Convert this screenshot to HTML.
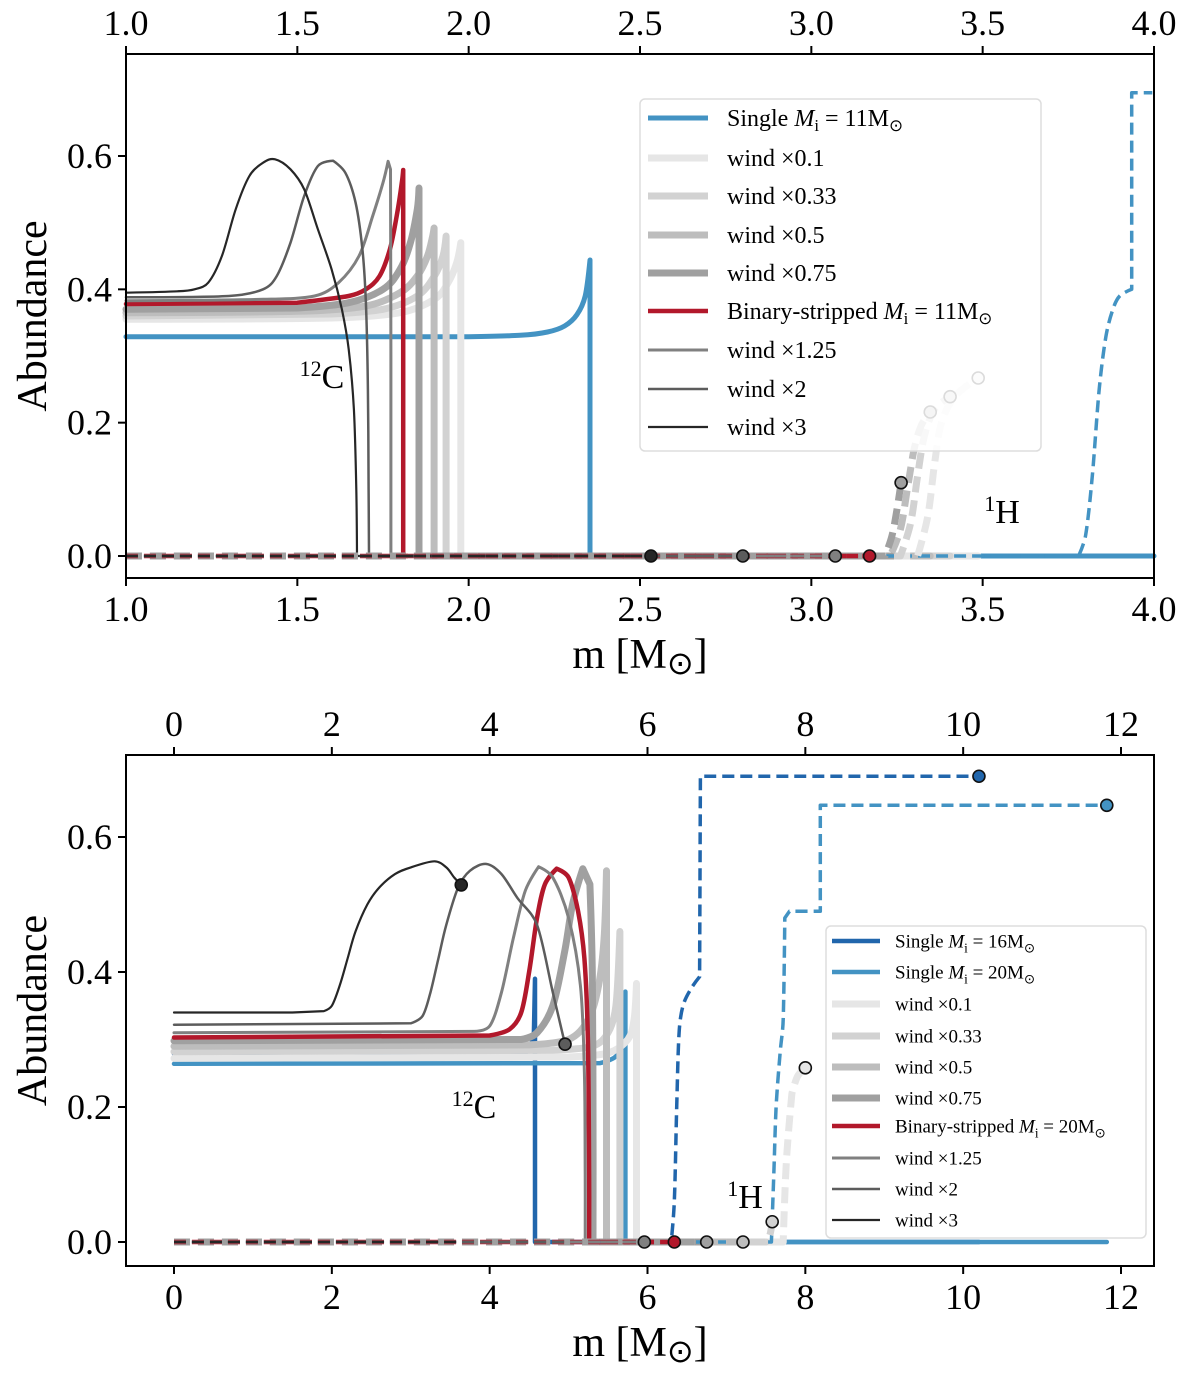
<!DOCTYPE html>
<html><head><meta charset="utf-8"><style>
body{margin:0;background:#fff;}
svg text{font-family:"Liberation Serif","DejaVu Serif",serif;fill:#000;}
</style></head><body>
<svg id="fig" width="1200" height="1368" viewBox="0 0 1200 1368" xmlns="http://www.w3.org/2000/svg">
<g id="top"></g>
<g id="bot"></g>
</svg>
<script>
// ---------- TOP PANEL DATA (Mi = 11) ----------
const topTicksX = [1.0,1.5,2.0,2.5,3.0,3.5,4.0];
const topTickLabelsX = ["1.0","1.5","2.0","2.5","3.0","3.5","4.0"];
const ticksY = [0.0,0.2,0.4,0.6];
const tickLabelsY = ["0.0","0.2","0.4","0.6"];

const t_single_c12_m = [1.0,2.0,2.15,2.23,2.28,2.316,2.34,2.354,2.354,4.0];
const t_single_c12_a = [0.329,0.329,0.331,0.336,0.345,0.362,0.39,0.444,0,0];
const t_single_h_m = [1.0,3.78,3.80,3.82,3.84,3.86,3.88,3.90,3.935,3.935,3.995];
const t_single_h_a = [0,0,0.03,0.12,0.25,0.33,0.37,0.39,0.40,0.695,0.695];

const t_w01_c12_m = [1.0,1.6,1.8,1.9,1.94,1.965,1.977,1.977,3.487];
const t_w01_c12_a = [0.355,0.357,0.365,0.385,0.41,0.44,0.47,0,0];
const t_w01_h_m = [1.0,3.31,3.34,3.36,3.38,3.42,3.487];
const t_w01_h_a = [0,0,0.06,0.14,0.2,0.24,0.267];

const t_w033_c12_m = [1.0,1.6,1.75,1.85,1.9,1.925,1.934,1.934,3.405];
const t_w033_c12_a = [0.360,0.363,0.37,0.39,0.42,0.45,0.48,0,0];
const t_w033_h_m = [1.0,3.26,3.29,3.31,3.33,3.36,3.405];
const t_w033_h_a = [0,0,0.05,0.12,0.18,0.22,0.239];

const t_w05_c12_m = [1.0,1.5,1.7,1.8,1.85,1.88,1.895,1.899,1.899,3.347];
const t_w05_c12_a = [0.365,0.367,0.375,0.395,0.42,0.45,0.48,0.492,0,0];
const t_w05_h_m = [1.0,3.23,3.26,3.28,3.30,3.32,3.347];
const t_w05_h_a = [0,0,0.04,0.1,0.16,0.195,0.216];

const t_w075_c12_m = [1.0,1.5,1.65,1.75,1.8,1.83,1.85,1.855,1.855,3.262];
const t_w075_c12_a = [0.370,0.372,0.38,0.40,0.43,0.47,0.52,0.552,0,0];
const t_w075_h_m = [1.0,3.215,3.235,3.25,3.262];
const t_w075_h_a = [0,0,0.03,0.07,0.11];

const t_bin_c12_m = [1.0,1.5,1.65,1.7,1.74,1.77,1.79,1.805,1.809,1.809,3.17];
const t_bin_c12_a = [0.378,0.38,0.39,0.40,0.42,0.46,0.51,0.56,0.579,0,0];
const t_bin_h_m = [1.0,3.17];
const t_bin_h_a = [0,0];

const t_w125_c12_m = [1.0,1.4,1.55,1.62,1.68,1.72,1.75,1.765,1.772,1.773,1.773,3.07];
const t_w125_c12_a = [0.383,0.385,0.39,0.41,0.45,0.51,0.56,0.592,0.58,0.3,0,0];
const t_w125_h_m = [1.0,3.07];
const t_w125_h_a = [0,0];

const t_w2_c12_m = [1.0,1.3,1.4,1.44,1.48,1.52,1.56,1.604,1.64,1.67,1.69,1.70,1.706,1.708,1.709,2.80];
const t_w2_c12_a = [0.388,0.39,0.40,0.42,0.47,0.54,0.585,0.593,0.575,0.53,0.46,0.38,0.25,0.1,0,0];
const t_w2_h_m = [1.0,2.80];
const t_w2_h_a = [0,0];

const t_w3_c12_m = [1.0,1.15,1.2,1.24,1.28,1.32,1.36,1.4,1.435,1.48,1.52,1.56,1.6,1.63,1.65,1.665,1.672,1.674,2.532];
const t_w3_c12_a = [0.395,0.397,0.40,0.41,0.45,0.52,0.57,0.59,0.595,0.58,0.55,0.49,0.43,0.37,0.31,0.22,0.1,0,0];
const t_w3_h_m = [1.0,2.532];
const t_w3_h_a = [0,0];

// ---------- BOTTOM PANEL DATA (Mi = 16 / 20) ----------
const botTicksX = [0,2,4,6,8,10,12];
const botTickLabelsX = ["0","2","4","6","8","10","12"];

const b_s16_c12_m = [0,4.4,4.5,4.56,4.575,4.575,10.2];
const b_s16_c12_a = [0.279,0.279,0.285,0.31,0.39,0,0];
const b_s16_h_m = [0,6.30,6.34,6.37,6.40,6.45,6.55,6.66,6.67,10.2];
const b_s16_h_a = [0,0,0.06,0.2,0.31,0.35,0.375,0.393,0.69,0.69];

const b_s20_c12_m = [0,5.4,5.6,5.7,5.72,5.72,11.82];
const b_s20_c12_a = [0.264,0.265,0.275,0.30,0.371,0,0];
const b_s20_h_m = [0,7.57,7.60,7.63,7.68,7.72,7.74,7.80,8.19,8.19,11.82];
const b_s20_h_a = [0,0,0.1,0.2,0.28,0.33,0.48,0.49,0.49,0.647,0.647];

const b_w01_c12_m = [0,5.0,5.5,5.75,5.83,5.86,5.86,7.72];
const b_w01_c12_a = [0.272,0.274,0.28,0.30,0.33,0.383,0,0];
const b_w01_h_m = [0,7.72,7.76,7.83,7.9,8.0];
const b_w01_h_a = [0,0,0.12,0.22,0.245,0.258];

const b_w033_c12_m = [0,4.8,5.3,5.5,5.6,5.65,5.65,7.5];
const b_w033_c12_a = [0.282,0.284,0.29,0.31,0.35,0.46,0,0];
const b_w033_h_m = [0,7.5,7.55,7.58];
const b_w033_h_a = [0,0,0.01,0.03];

const b_w05_c12_m = [0,4.5,5.0,5.25,5.38,5.45,5.48,5.48,7.21];
const b_w05_c12_a = [0.29,0.292,0.30,0.33,0.38,0.45,0.55,0,0];
const b_w05_h_m = [0,7.21];
const b_w05_h_a = [0,0];

const b_w075_c12_m = [0,4.4,4.6,4.8,4.95,5.05,5.18,5.27,5.3,5.31,5.31,6.75];
const b_w075_c12_a = [0.298,0.30,0.31,0.35,0.43,0.50,0.553,0.53,0.4,0.2,0,0];
const b_w075_h_m = [0,6.75];
const b_w075_h_a = [0,0];

const b_bin_c12_m = [0,4.0,4.25,4.4,4.5,4.6,4.7,4.85,5.0,5.12,5.2,5.245,5.26,5.26,6.34];
const b_bin_c12_a = [0.303,0.306,0.315,0.34,0.40,0.48,0.53,0.553,0.54,0.49,0.42,0.3,0.1,0,0];
const b_bin_h_m = [0,6.34];
const b_bin_h_a = [0,0];

const b_w125_c12_m = [0,3.8,4.0,4.15,4.3,4.45,4.62,4.8,5.0,5.15,5.2,5.21,5.21,5.96];
const b_w125_c12_a = [0.31,0.312,0.32,0.37,0.45,0.52,0.556,0.54,0.48,0.38,0.25,0.1,0,0];
const b_w125_h_m = [0,5.96];
const b_w125_h_a = [0,0];

const b_w2_c12_m = [0,3.0,3.15,3.25,3.35,3.45,3.6,3.75,3.96,4.15,4.35,4.6,4.8,4.955];
const b_w2_c12_a = [0.322,0.324,0.335,0.37,0.42,0.47,0.525,0.55,0.56,0.545,0.51,0.47,0.37,0.293];
const b_w2_h_m = [0,4.955];
const b_w2_h_a = [0,0];

const b_w3_c12_m = [0,1.5,1.9,2.0,2.1,2.2,2.3,2.45,2.6,2.8,3.0,3.3,3.45,3.55,3.64];
const b_w3_c12_a = [0.34,0.34,0.342,0.35,0.38,0.42,0.46,0.5,0.525,0.545,0.555,0.564,0.555,0.54,0.529];
const b_w3_h_m = [0,3.64];
const b_w3_h_a = [0,0];

// ---------- RENDERING ----------
const NS = "http://www.w3.org/2000/svg";
function mk(parent, tag, attrs){
  const e = document.createElementNS(NS, tag);
  for (const k in attrs) e.setAttribute(k, attrs[k]);
  parent.appendChild(e);
  return e;
}
function txt(parent, x, y, s, size, anchor, name){
  const t = mk(parent, "text", {x:x, y:y, "font-size":size, "text-anchor":anchor||"middle"});
  t.textContent = s;
  
  
  return t;
}

function makeAxes(box, xdom, ydom){
  const X = v => box.x0 + (v - xdom[0]) / (xdom[1] - xdom[0]) * (box.x1 - box.x0);
  const Y = v => box.yz - (v - ydom[0]) / (ydom[1] - ydom[0]) * (box.yz - box.yt);
  return {X, Y};
}

function smoothPath(pts){
  const n = pts.length;
  const L = (a, b) => Math.hypot(b[0]-a[0], b[1]-a[1]);
  const tan = [];
  for (let i = 0; i < n; i++){
    if (i === 0 || i === n-1) { tan.push([0,0]); continue; }
    const a = L(pts[i-1], pts[i]), b = L(pts[i], pts[i+1]);
    if (a < 0.01 || b < 0.01 || a/b > 3 || b/a > 3) { tan.push([0,0]); continue; }
    const cos = ((pts[i][0]-pts[i-1][0])*(pts[i+1][0]-pts[i][0]) + (pts[i][1]-pts[i-1][1])*(pts[i+1][1]-pts[i][1])) / (a*b);
    if (cos < 0.5) { tan.push([0,0]); continue; }
    tan.push([(pts[i+1][0]-pts[i-1][0])/2, (pts[i+1][1]-pts[i-1][1])/2]);
  }
  let d = "M" + pts[0][0].toFixed(1) + " " + pts[0][1].toFixed(1);
  for (let i = 0; i < n-1; i++){
    const p1 = pts[i], p2 = pts[i+1], seg = L(p1, p2);
    let t1 = [tan[i][0]/3, tan[i][1]/3], t2 = [tan[i+1][0]/3, tan[i+1][1]/3];
    const l1 = Math.hypot(t1[0], t1[1]), l2 = Math.hypot(t2[0], t2[1]);
    if (l1 > seg*0.4) { const f = seg*0.4/l1; t1 = [t1[0]*f, t1[1]*f]; }
    if (l2 > seg*0.4) { const f = seg*0.4/l2; t2 = [t2[0]*f, t2[1]*f]; }
    d += "C" + (p1[0]+t1[0]).toFixed(1)+" "+(p1[1]+t1[1]).toFixed(1)+" "+(p2[0]-t2[0]).toFixed(1)+" "+(p2[1]-t2[1]).toFixed(1)+" "+p2[0].toFixed(1)+" "+p2[1].toFixed(1);
  }
  return d;
}

function drawSeries(g, ax, ms, as, color, width, dash, name){
  const pts = ms.map((m, i) => [ax.X(m), ax.Y(as[i])]);
  const p = mk(g, "path", {d:smoothPath(pts), fill:"none", stroke:color, "stroke-width":width, "stroke-linejoin":"round", "stroke-linecap":dash ? "butt" : "round"});
  if (dash) p.setAttribute("stroke-dasharray", dash);
  
  
}
function dot(g, ax, m, a, color, name){
  const c = mk(g, "circle", {cx:ax.X(m), cy:ax.Y(a), r:6, fill:color, stroke:"#111", "stroke-width":1.6});
  
  
}

function frame(g, box, ax, xt, xtl){
  const r = mk(g, "rect", {x:box.x0, y:box.y0, width:box.x1-box.x0, height:box.y1-box.y0, fill:"none", stroke:"#000", "stroke-width":2});
  
  
  xt.forEach((v, i) => {
    const x = ax.X(v);
    const t1 = mk(g, "line", {x1:x, x2:x, y1:box.y1, y2:box.y1+8, stroke:"#000", "stroke-width":2});
    
    
    const t2 = mk(g, "line", {x1:x, x2:x, y1:box.y0, y2:box.y0-8, stroke:"#000", "stroke-width":2});
    
    
    txt(g, x, box.y1 + 43, xtl[i], 36, "middle", "x-tick-label");
    txt(g, x, box.y0 - 19, xtl[i], 36, "middle", "x-top-tick-label");
  });
  ticksY.forEach((v, i) => {
    const y = ax.Y(v);
    const t = mk(g, "line", {x1:box.x0-8, x2:box.x0, y1:y, y2:y, stroke:"#000", "stroke-width":2});
    
    
    txt(g, box.x0 - 14, y + 12, tickLabelsY[i], 36, "end", "y-tick-label");
  });
  const xt2 = txt(g, (box.x0+box.x1)/2, box.y1 + 90, "", 42, "middle", "x-axis-title");
  xt2.innerHTML = 'm [M<tspan font-family="DejaVu Sans" font-size="32" dy="6">⊙</tspan><tspan dy="-6">]</tspan>';
  const yt = txt(g, 0, 0, "Abundance", 42, "middle", "y-axis-title");
  yt.setAttribute("transform", `translate(46 ${(box.y0+box.y1)/2}) rotate(-90)`);
}

function legend(g, x, y, w, h, rows, lx, tx, rowY, fs, name){
  const r = mk(g, "rect", {x:x, y:y, width:w, height:h, rx:5, fill:"#fff", "fill-opacity":0.85, stroke:"#ddd", "stroke-width":1.5});
  
  
  rows.forEach((rw, i) => {
    const l = mk(g, "line", {x1:lx[0], x2:lx[1], y1:rowY[i], y2:rowY[i], stroke:rw[0], "stroke-width":rw[1]});
    
    
    const t = txt(g, tx, rowY[i] + fs*0.33, "", fs, "start", "legend-entry");
    t.innerHTML = rw[2];
  });
}

const C = {w01:"#e6e6e6", w033:"#d2d2d2", w05:"#bdbdbd", w075:"#a0a0a0", bin:"#b2182b", w125:"#808080", w2:"#5c5c5c", w3:"#262626", b11:"#4393c3", b16:"#2166ac", b20:"#4393c3"};
const sun = '<tspan font-family="DejaVu Sans" font-size="0.7em" dy="5">⊙</tspan>';

// TOP
(function(){
  const g = document.getElementById("top");
  const box = {x0:126, x1:1154, y0:54, y1:578, yz:556, yt:156};
  const ax = makeAxes(box, [1,4], [0,0.6]);
  const S = [
    [t_single_c12_m,t_single_c12_a,t_single_h_m,t_single_h_a,C.b11,5,false,"single-11"],
    [t_w01_c12_m,t_w01_c12_a,t_w01_h_m,t_w01_h_a,C.w01,7,true,"wind-0.1"],
    [t_w033_c12_m,t_w033_c12_a,t_w033_h_m,t_w033_h_a,C.w033,7,true,"wind-0.33"],
    [t_w05_c12_m,t_w05_c12_a,t_w05_h_m,t_w05_h_a,C.w05,7,true,"wind-0.5"],
    [t_w075_c12_m,t_w075_c12_a,t_w075_h_m,t_w075_h_a,C.w075,7,true,"wind-0.75"],
    [t_bin_c12_m,t_bin_c12_a,t_bin_h_m,t_bin_h_a,C.bin,4.5,true,"binary-11"],
    [t_w125_c12_m,t_w125_c12_a,t_w125_h_m,t_w125_h_a,C.w125,3,true,"wind-1.25"],
    [t_w2_c12_m,t_w2_c12_a,t_w2_h_m,t_w2_h_a,C.w2,2.5,true,"wind-2"],
    [t_w3_c12_m,t_w3_c12_a,t_w3_h_m,t_w3_h_a,C.w3,2.2,true,"wind-3"]
  ];
  S.forEach(s => drawSeries(g, ax, s[0], s[1], s[4], s[5], null, s[7]+"-c12-line"));
  S.forEach(s => drawSeries(g, ax, s[2], s[3], s[4], s[5] === 5 ? 3.5 : s[5], s[5] >= 6 ? "16 8" : "12 6", s[7]+"-h-line"));
  S.forEach(s => { if (s[6]) dot(g, ax, s[2][s[2].length-1], s[3][s[3].length-1], s[4], s[7]+"-end-marker"); });
  const c = txt(g, 322, 388, "", 34, "middle", "c12-label"); c.innerHTML = '<tspan font-size="22" dy="-12">12</tspan><tspan dy="12">C</tspan>';
  const h = txt(g, 1002, 523, "", 34, "middle", "h1-label"); h.innerHTML = '<tspan font-size="22" dy="-12">1</tspan><tspan dy="12">H</tspan>';
  frame(g, box, ax, topTicksX, topTickLabelsX);
  legend(g, 640, 99, 401, 352, [
    [C.b11,5,'Single <tspan font-style="italic">M</tspan><tspan font-size="0.7em" dy="5">i</tspan><tspan dy="-5"> = 11M</tspan>'+sun],
    [C.w01,7,'wind ×0.1'],[C.w033,7,'wind ×0.33'],[C.w05,7,'wind ×0.5'],[C.w075,7,'wind ×0.75'],
    [C.bin,4.5,'Binary-stripped <tspan font-style="italic">M</tspan><tspan font-size="0.7em" dy="5">i</tspan><tspan dy="-5"> = 11M</tspan>'+sun],
    [C.w125,3,'wind ×1.25'],[C.w2,2.5,'wind ×2'],[C.w3,2.2,'wind ×3']
  ], [648,708], 727, [118,158,196,235,273,311,350,389,427], 24, "top-legend");
})();

// BOTTOM
(function(){
  const g = document.getElementById("bot");
  const box = {x0:126, x1:1154, y0:755, y1:1266, yz:1242, yt:837};
  const ax = makeAxes(box, [0,12], [0,0.6]);
  ax.X = v => 174 + v * (1121 - 174) / 12;
  const S = [
    [b_s16_c12_m,b_s16_c12_a,b_s16_h_m,b_s16_h_a,C.b16,4.5,"h","single-16"],
    [b_s20_c12_m,b_s20_c12_a,b_s20_h_m,b_s20_h_a,C.b20,4.5,"h","single-20"],
    [b_w01_c12_m,b_w01_c12_a,b_w01_h_m,b_w01_h_a,C.w01,7,"h","wind-0.1"],
    [b_w033_c12_m,b_w033_c12_a,b_w033_h_m,b_w033_h_a,C.w033,7,"h","wind-0.33"],
    [b_w05_c12_m,b_w05_c12_a,b_w05_h_m,b_w05_h_a,C.w05,7,"h","wind-0.5"],
    [b_w075_c12_m,b_w075_c12_a,b_w075_h_m,b_w075_h_a,C.w075,7,"h","wind-0.75"],
    [b_bin_c12_m,b_bin_c12_a,b_bin_h_m,b_bin_h_a,C.bin,4.5,"h","binary-20"],
    [b_w125_c12_m,b_w125_c12_a,b_w125_h_m,b_w125_h_a,C.w125,3,"h","wind-1.25"],
    [b_w2_c12_m,b_w2_c12_a,b_w2_h_m,b_w2_h_a,C.w2,2.5,"c","wind-2"],
    [b_w3_c12_m,b_w3_c12_a,b_w3_h_m,b_w3_h_a,C.w3,2.2,"c","wind-3"]
  ];
  S.forEach(s => drawSeries(g, ax, s[0], s[1], s[4], s[5], null, s[7]+"-c12-line"));
  S.forEach(s => drawSeries(g, ax, s[2], s[3], s[4], s[7].startsWith("single") ? 3.5 : s[5], s[5] >= 6 ? "16 8" : "12 6", s[7]+"-h-line"));
  S.forEach(s => {
    if (s[6] === "h") dot(g, ax, s[2][s[2].length-1], s[3][s[3].length-1], s[4], s[7]+"-end-marker");
    else dot(g, ax, s[0][s[0].length-1], s[1][s[1].length-1], s[4], s[7]+"-end-marker");
  });
  const c = txt(g, 474, 1118, "", 34, "middle", "c12-label"); c.innerHTML = '<tspan font-size="22" dy="-12">12</tspan><tspan dy="12">C</tspan>';
  const h = txt(g, 745, 1208, "", 34, "middle", "h1-label"); h.innerHTML = '<tspan font-size="22" dy="-12">1</tspan><tspan dy="12">H</tspan>';
  frame(g, box, ax, botTicksX, botTickLabelsX);
  legend(g, 826, 926, 320, 312, [
    [C.b16,4.5,'Single <tspan font-style="italic">M</tspan><tspan font-size="0.7em" dy="5">i</tspan><tspan dy="-5"> = 16M</tspan>'+sun],
    [C.b20,4.5,'Single <tspan font-style="italic">M</tspan><tspan font-size="0.7em" dy="5">i</tspan><tspan dy="-5"> = 20M</tspan>'+sun],
    [C.w01,7,'wind ×0.1'],[C.w033,7,'wind ×0.33'],[C.w05,7,'wind ×0.5'],[C.w075,7,'wind ×0.75'],
    [C.bin,4.5,'Binary-stripped <tspan font-style="italic">M</tspan><tspan font-size="0.7em" dy="5">i</tspan><tspan dy="-5"> = 20M</tspan>'+sun],
    [C.w125,3,'wind ×1.25'],[C.w2,2.5,'wind ×2'],[C.w3,2.2,'wind ×3']
  ], [832,880], 895, [941,972,1004,1036,1067,1098,1126,1158,1189,1220], 19, "bottom-legend");
})();
</script>
</body></html>
